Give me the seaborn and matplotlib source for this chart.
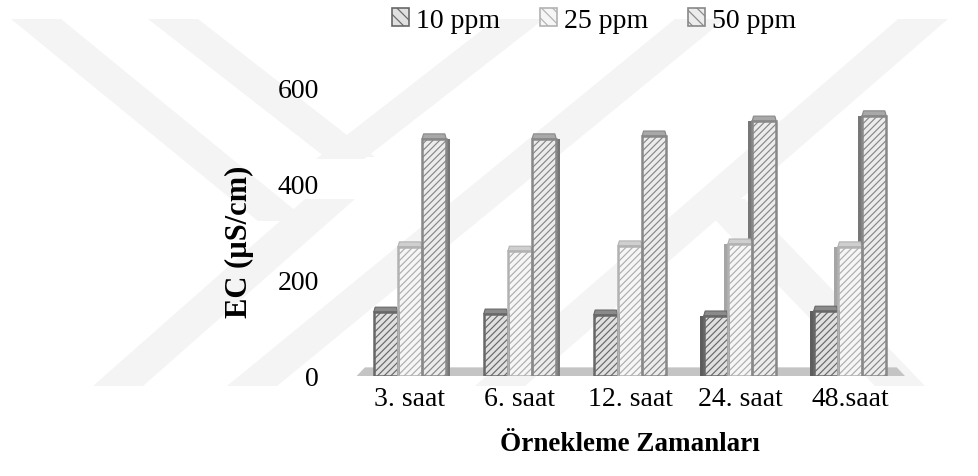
import numpy as np
import pandas as pd
import seaborn as sns
import matplotlib
matplotlib.use("Agg")
import matplotlib.pyplot as plt
from matplotlib.patches import Polygon, Rectangle, Patch

# ---- data ----
categories = ["3. saat", "6. saat", "12. saat", "24. saat", "48.saat"]
series_names = ["10 ppm", "25 ppm", "50 ppm"]
ppm10 = [133, 129, 127, 125, 135]
ppm25 = [269, 260, 271, 275, 269]
ppm50 = [494, 494, 500, 531, 542]
y_ticks = [0, 200, 400, 600]
y_label = "EC (µS/cm)"
x_label = "Örnekleme Zamanları"

# ---- styles ----
face_cols = ["#e0e0e0", "#f6f6f6", "#ececec"]
edge_cols = ["#686868", "#b2b2b2", "#888888"]
hatch_cols = ["#686868", "#adadad", "#878787"]
cap_cols = ["#8a8a8a", "#cfcfcf", "#a8a8a8"]
side_cols = ["#5e5e5e", "#a5a5a5", "#777777"]

df = pd.DataFrame({
    "cat": categories * 3,
    "series": [series_names[0]] * 5 + [series_names[1]] * 5 + [series_names[2]] * 5,
    "val": ppm10 + ppm25 + ppm50,
})

sns.set_theme(style="white")
plt.rcParams["font.family"] = ["Liberation Serif", "DejaVu Serif"]
plt.rcParams["hatch.linewidth"] = 0.85
plt.rcParams["text.color"] = "black"
plt.rcParams["axes.labelcolor"] = "black"
plt.rcParams["xtick.color"] = "black"
plt.rcParams["ytick.color"] = "black"

W, H = 979, 477
fig = plt.figure(figsize=(W / 100, H / 100), dpi=100)
fig.patch.set_facecolor("white")

# ---- watermark (light chevron bands, in reference pixel coordinates) ----
def band(x0, y0, x1, y1, w=50):
    pts = [(x0 - w / 2, y0), (x0 + w / 2, y0), (x1 + w / 2, y1), (x1 - w / 2, y1)]
    return [(px / W, 1 - py / H) for px, py in pts]

wm_col = "#f4f4f4"
bands = [
    band(36, 20, 283, 222),
    band(173, 20, 350, 158),
    band(118, 387, 330, 200),
    band(340, 160, 520, 20, 48),
    band(252, 387, 700, 20),
    band(500, 387, 923, 20),
    band(720, 200, 900, 387),
]
for b in bands:
    fig.add_artist(Polygon(b, closed=True, facecolor=wm_col, edgecolor="none",
                           transform=fig.transFigure, zorder=0))

ax = fig.add_axes([355 / W, 100 / H, 550 / W, 288 / H])
ax.patch.set_alpha(0)

# floor
ax.add_patch(Polygon([(0.003, 0.0), (1.0, 0.0), (0.985, 0.03), (0.018, 0.03)],
                     closed=True, transform=ax.transAxes, facecolor="#c4c4c4",
                     edgecolor="none", zorder=1))

sns.barplot(data=df, x="cat", y="val", hue="series", hue_order=series_names,
            order=categories, palette=face_cols, saturation=1, width=0.66,
            gap=0, ax=ax, legend=False, zorder=2)

ax.set_ylim(0, 600)
ax.set_xlim(-0.5, 4.5)

px_per_unit = 288 / 600
cap_h = 5 / px_per_unit
side_w = 4 / 110

for si, cont in enumerate(ax.containers):
    for ci, rect in enumerate(cont.patches):
        x, w, h = rect.get_x(), rect.get_width(), rect.get_height()
        rect.set_facecolor(face_cols[si])
        rect.set_edgecolor(hatch_cols[si])
        rect.set_hatch("/////")
        rect.set_linewidth(0)
        rect.set_zorder(3)
        # outline
        ax.add_patch(Rectangle((x, 0), w, h, facecolor="none",
                               edgecolor=edge_cols[si], linewidth=1.8, zorder=3.2))
        # top face
        ax.add_patch(Polygon([(x, h), (x + w, h), (x + w - w * 0.06, h + cap_h),
                              (x + w * 0.06, h + cap_h)], closed=True,
                             facecolor=cap_cols[si], edgecolor=edge_cols[si],
                             linewidth=0.8, zorder=3))
        # side face
        if ci < 2:
            ax.add_patch(Rectangle((x + w, 0), side_w * (1 if si == 2 else 0.5), h,
                                   facecolor=side_cols[si], edgecolor="none", zorder=2.5))
        elif ci > 2:
            ax.add_patch(Rectangle((x - side_w, 0), side_w, h,
                                   facecolor=side_cols[si], edgecolor="none", zorder=2.5))

for s in ax.spines.values():
    s.set_visible(False)
ax.set_yticks(y_ticks)
ax.set_yticklabels([str(t) for t in y_ticks])
ax.tick_params(axis="y", length=0, pad=26, labelsize=20)
ax.tick_params(axis="x", length=0, pad=7, labelsize=20)
ax.grid(False)

ax.set_ylabel(y_label, fontsize=22, fontweight="bold")
ax.yaxis.set_label_coords(-0.184, 0.47)
ax.set_xlabel(x_label, fontsize=19.5, fontweight="bold")
ax.xaxis.set_label_coords(0.5, -0.19)

handles = [Patch(facecolor=face_cols[i], edgecolor=edge_cols[i], hatch="\\\\\\",
                 linewidth=1.2) for i in range(3)]
fig.legend(handles, series_names, loc="center", bbox_to_anchor=(594 / W, 1 - 21 / H),
           ncol=3, frameon=False, fontsize=20, handlelength=0.6, handleheight=0.6,
           handletextpad=0.25, columnspacing=1.45, borderpad=0)

fig.savefig("out.png", dpi=100, facecolor="white")
